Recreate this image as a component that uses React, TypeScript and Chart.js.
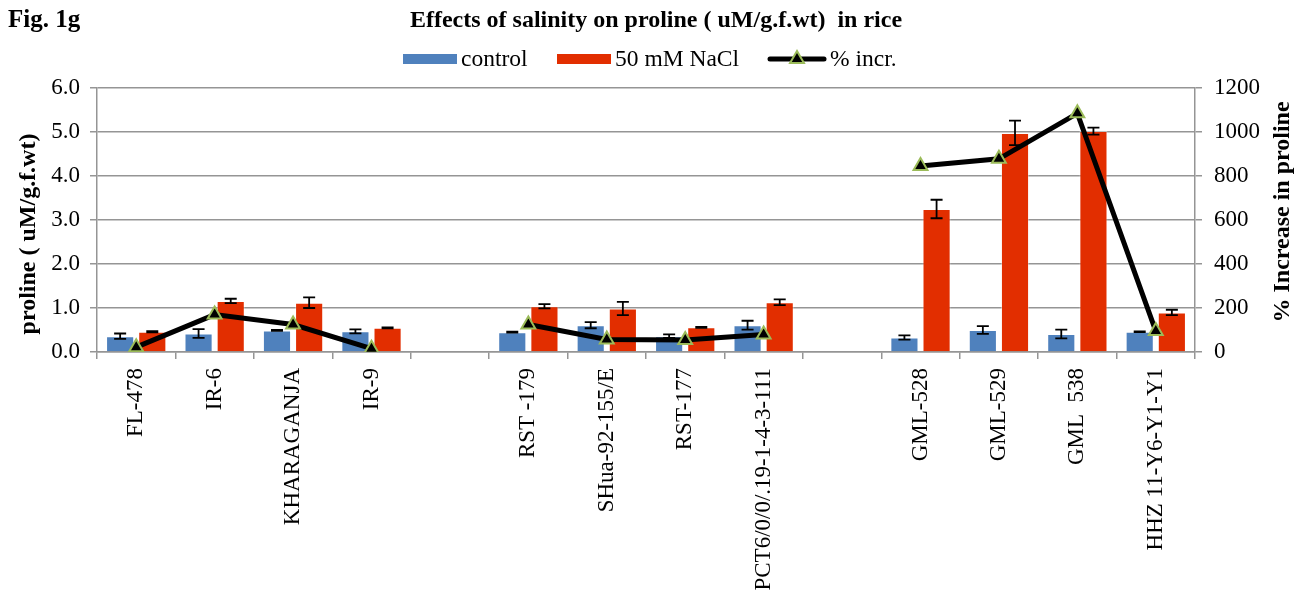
import React, { useEffect, useRef } from 'react';
import { Chart, registerables } from 'chart.js';

Chart.register(...registerables);

const FONT = '"Liberation Serif", "Times New Roman", serif';

const categories = [
  'FL-478', 'IR-6', 'KHARAGANJA', 'IR-9', '',
  'RST -179', 'SHua-92-155/E', 'RST-177', 'PCT6/0/0/.19-1-4-3-111', '',
  'GML-528', 'GML-529', 'GML  538', 'HHZ 11-Y6-Y1-Y1',
];
const controlValues = [0.36, 0.42, 0.49, 0.47, null, 0.45, 0.61, 0.36, 0.61, null, 0.33, 0.5, 0.41, 0.46];
const controlErrors = [0.06, 0.1, 0.01, 0.045, null, 0.01, 0.07, 0.04, 0.1, null, 0.05, 0.09, 0.1, 0.01];
const naclValues = [0.46, 1.16, 1.12, 0.55, null, 1.04, 0.99, 0.56, 1.13, null, 3.25, 4.98, 5.02, 0.9];
const naclErrors = [0.015, 0.05, 0.12, 0.01, null, 0.05, 0.15, 0.01, 0.065, null, 0.21, 0.28, 0.08, 0.06];
const percentIncrease = [22, 170, 125, 15, null, 125, 57, 55, 80, null, 845, 878, 1085, 95];

const leftTickLabels = ['0.0', '1.0', '2.0', '3.0', '4.0', '5.0', '6.0'];
const rightTickLabels = ['0', '200', '400', '600', '800', '1000', '1200'];

const figLabel = 'Fig. 1g';
const chartTitle = 'Effects of salinity on proline ( uM/g.f.wt)  in rice';
const leftAxisTitle = 'proline ( uM/g.f.wt)';
const rightAxisTitle = '% Increase in proline';
const legendLabels = ['control', '50 mM NaCl', '% incr.'];

const BLUE = '#4F81BD';
const RED = '#E22E00';
const GREEN = '#9BBB59';
const GRID = '#959595';

const errorMap: Record<number, (number | null)[]> = { 1: controlErrors, 2: naclErrors };

const errorBarPlugin = {
  id: 'errorBars',
  afterDatasetDraw(chart: any, args: any) {
    const errs = errorMap[args.index];
    if (!errs) return;
    const ds = chart.data.datasets[args.index];
    const meta = chart.getDatasetMeta(args.index);
    const yScale = chart.scales.y;
    const ctx = chart.ctx;
    ctx.save();
    ctx.strokeStyle = '#000';
    ctx.lineWidth = 1.8;
    meta.data.forEach((bar: any, i: number) => {
      const v = ds.data[i];
      const e = errs[i];
      if (v == null || e == null) return;
      const x = bar.x;
      const yt = yScale.getPixelForValue(v + e);
      const yb = yScale.getPixelForValue(v - e);
      ctx.beginPath();
      ctx.moveTo(x, yt);
      ctx.lineTo(x, yb);
      ctx.moveTo(x - 6, yt);
      ctx.lineTo(x + 6, yt);
      ctx.moveTo(x - 6, yb);
      ctx.lineTo(x + 6, yb);
      ctx.stroke();
    });
    ctx.restore();
  },
};

function triangle(ctx: CanvasRenderingContext2D, x: number, y: number, r: number) {
  const s = Math.sin((2 * Math.PI) / 3) * r;
  ctx.beginPath();
  ctx.moveTo(x, y - r);
  ctx.lineTo(x + s, y + r / 2);
  ctx.lineTo(x - s, y + r / 2);
  ctx.closePath();
  ctx.fillStyle = '#000';
  ctx.fill();
  ctx.strokeStyle = GREEN;
  ctx.lineWidth = 2;
  ctx.stroke();
}

const textPlugin = {
  id: 'texts',
  afterDraw(chart: any) {
    const ctx: CanvasRenderingContext2D = chart.ctx;
    ctx.save();
    ctx.fillStyle = '#000';
    ctx.textBaseline = 'alphabetic';
    ctx.font = `bold 25px ${FONT}`;
    ctx.textAlign = 'left';
    ctx.fillText(figLabel, 8, 27);
    ctx.font = `bold 24px ${FONT}`;
    ctx.textAlign = 'center';
    ctx.fillText(chartTitle, 656, 27);

    // legend
    ctx.font = `23.5px ${FONT}`;
    ctx.textAlign = 'left';
    ctx.textBaseline = 'middle';
    ctx.fillStyle = BLUE;
    ctx.fillRect(403, 54, 54, 10);
    ctx.fillStyle = '#000';
    ctx.fillText(legendLabels[0], 461, 60);
    ctx.fillStyle = RED;
    ctx.fillRect(557, 54, 54, 10);
    ctx.fillStyle = '#000';
    ctx.fillText(legendLabels[1], 615, 60);
    ctx.strokeStyle = '#000';
    ctx.lineWidth = 5;
    ctx.lineCap = 'round';
    ctx.beginPath();
    ctx.moveTo(770, 59);
    ctx.lineTo(824, 59);
    ctx.stroke();
    triangle(ctx, 797, 59, 8);
    ctx.fillStyle = '#000';
    ctx.fillText(legendLabels[2], 830, 60);

    // axis titles
    ctx.font = `bold 24px ${FONT}`;
    ctx.textAlign = 'center';
    ctx.save();
    ctx.translate(29, 234);
    ctx.rotate(-Math.PI / 2);
    ctx.fillText(leftAxisTitle, 0, 0);
    ctx.restore();
    ctx.save();
    ctx.translate(1283, 212);
    ctx.rotate(-Math.PI / 2);
    ctx.fillText(rightAxisTitle, 0, 0);
    ctx.restore();
    ctx.restore();
  },
};

export default function App() {
  const ref = useRef<HTMLCanvasElement>(null);
  useEffect(() => {
    if (!ref.current) return;
    const chart = new Chart(ref.current, {
      type: 'bar',
      data: {
        labels: categories,
        datasets: [
          {
            type: 'line',
            label: legendLabels[2],
            data: percentIncrease,
            yAxisID: 'y1',
            borderColor: '#000',
            borderWidth: 5,
            pointStyle: 'triangle',
            pointRadius: 8,
            pointBackgroundColor: '#000',
            pointBorderColor: GREEN,
            pointBorderWidth: 2,
            spanGaps: false,
            tension: 0,
            order: 0,
          } as any,
          {
            label: legendLabels[0],
            data: controlValues,
            yAxisID: 'y',
            backgroundColor: BLUE,
            borderColor: 'rgba(255,255,255,0.4)',
            borderWidth: 1,
            categoryPercentage: 0.82,
            barPercentage: 0.875,
            order: 1,
          },
          {
            label: legendLabels[1],
            data: naclValues,
            yAxisID: 'y',
            backgroundColor: RED,
            borderColor: 'rgba(255,255,255,0.4)',
            borderWidth: 1,
            categoryPercentage: 0.82,
            barPercentage: 0.875,
            order: 1,
          },
        ],
      },
      options: {
        animation: false,
        responsive: false,
        devicePixelRatio: 1,
        layout: { padding: { top: 88, left: 0, right: 0, bottom: 0 } },
        plugins: {
          legend: { display: false },
          title: { display: false },
          tooltip: { enabled: false },
        },
        scales: {
          x: {
            offset: true,
            grid: {
              display: true,
              offset: true,
              drawOnChartArea: false,
              drawTicks: true,
              tickLength: 7,
              color: GRID,
              lineWidth: 1.5,
            },
            border: { display: true, color: GRID, width: 1.5 },
            ticks: {
              autoSkip: false,
              maxRotation: 90,
              minRotation: 90,
              color: '#000',
              padding: 9,
              font: { family: FONT, size: 23 },
            },
            afterFit: (s: any) => { s.height = 250; },
          },
          y: {
            position: 'left',
            min: 0,
            max: 6,
            ticks: {
              stepSize: 1,
              color: '#000',
              padding: 10,
              font: { family: FONT, size: 23 },
              callback: (_v: any, i: number) => leftTickLabels[i],
            },
            grid: { color: GRID, lineWidth: 1.5, tickLength: 7 },
            border: { display: true, color: GRID, width: 1.5 },
            afterFit: (s: any) => { s.width = 97; },
          },
          y1: {
            position: 'right',
            min: 0,
            max: 1200,
            ticks: {
              stepSize: 200,
              color: '#000',
              padding: 12,
              font: { family: FONT, size: 23 },
              callback: (_v: any, i: number) => rightTickLabels[i],
            },
            grid: { drawOnChartArea: false, color: GRID, lineWidth: 1.5, tickLength: 7 },
            border: { display: true, color: GRID, width: 1.5 },
            afterFit: (s: any) => { s.width = 114; },
          },
        },
      },
      plugins: [errorBarPlugin, textPlugin],
    });
    return () => chart.destroy();
  }, []);

  return (
    <div style={{ position: 'absolute', left: 0, top: 0, width: 1309, height: 602, background: '#fff' }}>
      <canvas ref={ref} width={1309} height={602} style={{ display: 'block', width: 1309, height: 602 }} />
    </div>
  );
}
